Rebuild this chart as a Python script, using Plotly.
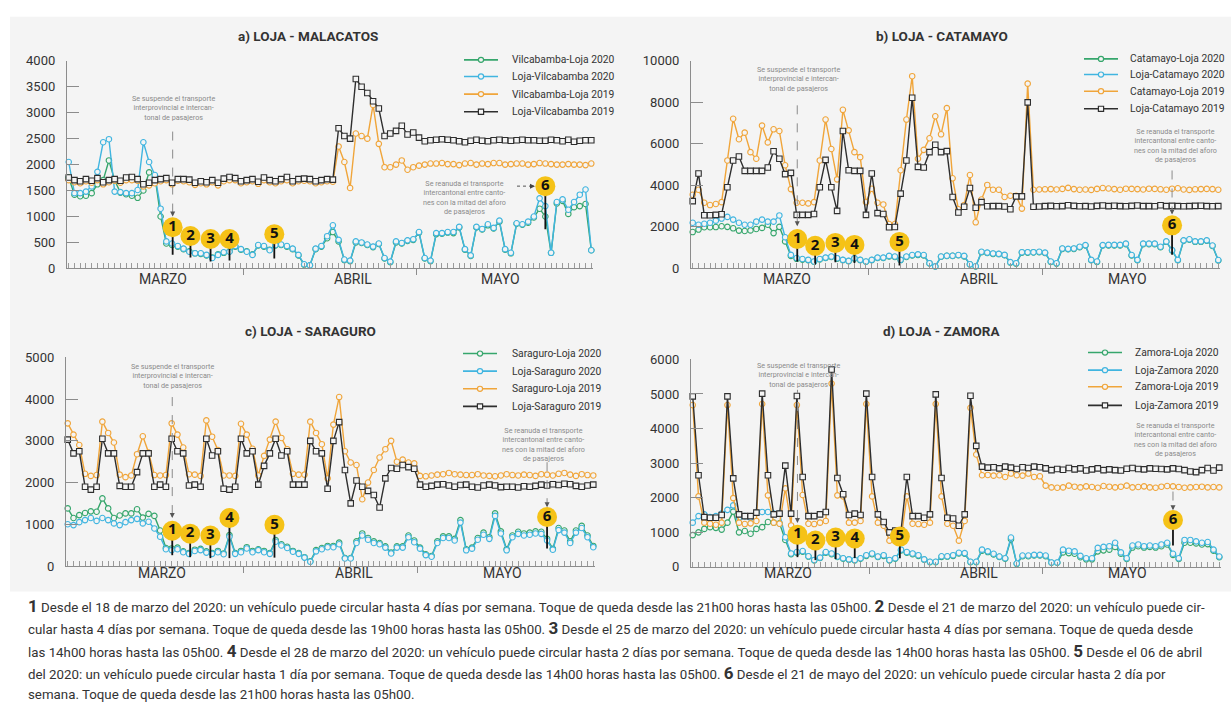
import plotly.graph_objects as go

W, H = 1231, 711
days = list(range(92))  # 1 de marzo .. 31 de mayo

# ---------------- a) LOJA - MALACATOS ----------------
a_names = ["Vilcabamba-Loja 2020", "Loja-Vilcabamba 2020", "Vilcabamba-Loja 2019", "Loja-Vilcabamba 2019"]
a_vl20 = [1750, 1420, 1390, 1400, 1450, 1620, 1700, 2080, 1700, 1460, 1430, 1400, 1360, 1500, 1850, 1780, 1000,
          480, 450, 420, 370, 330, 290, 280, 250, 210, 270, 300, 330, 420, 360, 330, 270, 440, 420, 360, 440,
          450, 420, 370, 250, 70, 60,
          370, 420, 580, 700, 520, 160, 140, 500, 490, 450, 410, 470, 190, 120, 500, 480, 530, 550, 690, 190,
          140, 660, 670, 690, 680, 790, 360, 240, 790, 750, 830, 770, 900, 360, 290, 860, 840, 880, 980, 1150,
          1000, 300, 1250, 1300, 1050, 1180, 1200, 1240, 350]
a_lv20 = [2050, 1450, 1450, 1480, 1580, 1860, 2430, 2490, 1480, 1470, 1450, 1450, 1510, 2430, 2050, 1800, 1150,
          520, 480, 430, 380, 320, 290, 290, 260, 200, 260, 310, 320, 430, 370, 320, 260, 450, 430, 350, 450,
          460, 430, 380, 260, 80, 60,
          380, 430, 620, 830, 550, 170, 150, 520, 500, 460, 420, 480, 200, 130, 520, 490, 540, 560, 700, 200,
          150, 680, 680, 700, 700, 800, 370, 250, 800, 760, 850, 780, 920, 370, 300, 870, 850, 900, 1000, 1350,
          1200, 300, 1280, 1330, 1130, 1280, 1420, 1520, 350]
a_vl19 = [1700, 1660, 1640, 1680, 1650, 1700, 1620, 1660, 1690, 1650, 1700, 1700, 1690, 1580, 1600, 1640, 1680,
          1700, 1620, 1690, 1680, 1660, 1610, 1640, 1620, 1660, 1600, 1680, 1700, 1700, 1640, 1660, 1680, 1630,
          1700, 1660, 1640, 1680, 1700, 1640, 1680, 1690, 1680, 1640, 1660, 1680, 1670,
          2350, 2050, 1550, 2600, 2550, 2500, 3150, 2400, 1950, 1950, 2000, 2080, 1900, 1950, 1980, 2000,
          2020, 2020, 2030, 2010, 2010, 1990, 2020, 2030, 2000, 2020, 2010, 2030, 2030, 2000, 2010, 2020, 2020,
          2000, 2010, 2030, 2020, 2010, 2000, 2000, 2010, 2000, 2000, 1990, 2020]
a_lv19 = [1750, 1700, 1680, 1720, 1690, 1740, 1660, 1700, 1720, 1690, 1750, 1760, 1720, 1620, 1650, 1700, 1720,
          1740, 1650, 1720, 1720, 1710, 1650, 1680, 1660, 1700, 1650, 1730, 1760, 1740, 1680, 1700, 1720, 1670,
          1750, 1700, 1680, 1720, 1760, 1680, 1720, 1730, 1720, 1680, 1700, 1720, 1710,
          2700, 2550, 2500, 3650, 3500, 3380, 3220, 3080, 2550, 2600, 2650, 2750, 2580, 2620, 2520, 2450,
          2470, 2480, 2490, 2480, 2470, 2450, 2430, 2460, 2480, 2460, 2450, 2470, 2480, 2470, 2460, 2470, 2480,
          2470, 2470, 2460, 2460, 2480, 2470, 2450, 2480, 2440, 2460, 2470, 2470]

# ---------------- b) LOJA - CATAMAYO ----------------
b_names = ["Catamayo-Loja 2020", "Loja-Catamayo 2020", "Catamayo-Loja 2019", "Loja-Catamayo 2019"]
b_cl20 = [1750, 1870, 1980, 1980, 1990, 2030, 2000, 1930, 1820, 1800, 1830, 1900, 1950, 2100, 1700, 2000, 1300,
          600, 460, 420, 390, 320, 430, 500, 550, 470, 400, 350, 470, 400, 320, 400, 500, 500, 580, 550, 400,
          550, 620, 650, 620, 240, 90,
          560, 600, 600, 630, 580, 190, 90, 780, 740, 700, 690, 630, 280, 230, 760, 760, 770, 780, 740, 310,
          230, 940, 920, 940, 1020, 1100, 390, 310, 1100, 1110, 1110, 1110, 1170, 620, 390, 1170, 1170, 1170,
          1020, 1280, 860, 390, 1330, 1380, 1280, 1280, 1330, 1080, 380]
b_lc20 = [2200, 2100, 2150, 2200, 2300, 2400, 2480, 2350, 2200, 2100, 2100, 2250, 2350, 2250, 2250, 2550, 1500,
          650, 500, 450, 410, 330, 450, 520, 570, 490, 410, 360, 490, 410, 330, 410, 520, 520, 600, 570, 410,
          570, 645, 675, 645, 250, 95,
          570, 610, 610, 645, 600, 200, 100, 800, 760, 720, 700, 650, 300, 250, 780, 780, 780, 800, 760, 330,
          250, 960, 940, 960, 1040, 1120, 410, 330, 1120, 1130, 1130, 1130, 1190, 645, 410, 1190, 1190, 1190,
          1040, 1300, 880, 410, 1350, 1400, 1300, 1300, 1350, 1100, 400]
b_cl19 = [3550, 3790, 3160, 3050, 3100, 3190, 5200, 7210, 6220, 6540, 5600, 5280, 6880, 6070, 6700, 6620, 4970,
          3820, 3160, 3160, 3130, 3190, 5200, 7170, 5750, 4290, 7640, 6650, 5600, 5360, 3190, 3840, 3160, 3080,
          2140, 2140, 4730, 7170, 9260, 5280, 5710, 6270, 7330, 6460, 7720, 4340, 2850, 3050,
          4500, 2220, 3320, 4020, 3790, 3790, 3440, 3500, 3500, 2880, 8900, 3790,
          3800, 3810, 3820, 3800, 3830, 3880, 3820, 3790, 3800, 3780, 3830, 3870, 3850, 3820, 3790, 3840, 3830,
          3820, 3800, 3840, 3830, 3810, 3790, 3840, 3860, 3800, 3780, 3810, 3820, 3830, 3820, 3790]
b_lc19 = [3240, 4570, 2560, 2560, 2580, 2610, 3910, 5200, 5390, 4700, 4700, 4700, 4700, 4860, 5640, 5280, 4540,
          4600, 2580, 2580, 2580, 2620, 3910, 5230, 3910, 2770, 6620, 4730, 4700, 4700, 2580, 4570, 2660, 2620,
          1980, 1990, 3600, 5200, 8220, 4890, 4860, 5600, 5960, 5600, 5650, 3440, 2690, 2970,
          3870, 2920, 3190, 2990, 3000, 3000, 2980, 2850, 3470, 3470, 8000, 2970,
          2980, 3000, 3010, 2990, 3000, 3040, 3010, 2990, 3000, 2980, 3010, 3030, 3000, 3020, 3000, 2990, 3010,
          3030, 3000, 3000, 2990, 3040, 3000, 3010, 3000, 2990, 3000, 3010, 3020, 3000, 2990, 3000]

# ---------------- c) LOJA - SARAGURO ----------------
c_names = ["Saraguro-Loja 2020", "Loja-Saraguro 2020", "Saraguro-Loja 2019", "Loja-Saraguro 2019"]
c_sl20 = [1380, 1150, 1220, 1270, 1310, 1300, 1620, 1380, 1150, 1210, 1260, 1260, 1360, 1160, 1250, 1200, 850,
          430, 420, 440, 350, 310, 390, 410, 350, 310, 360, 300, 740, 310, 360, 450, 360, 400, 360, 310, 620,
          520, 460, 360, 310, 210, 110, 380, 430, 480, 480, 560,
          190, 190, 590, 780, 670, 590, 550, 470, 320, 470, 470, 730, 610, 440, 280, 240, 590, 710, 710, 650,
          1100, 400, 440, 670, 800, 690, 1260, 830, 400, 730, 820, 780, 800, 830, 820, 650, 410, 910, 850, 590,
          850, 960, 730, 480]
c_ls20 = [1000, 980, 1050, 1100, 1150, 1080, 1150, 1100, 1020, 980, 1050, 1100, 1130, 1020, 1060, 900, 700,
          400, 380, 400, 330, 290, 360, 380, 320, 290, 330, 280, 700, 290, 330, 420, 330, 380, 330, 290, 580,
          490, 430, 340, 290, 200, 100, 350, 400, 450, 450, 520,
          180, 180, 550, 730, 630, 550, 520, 440, 300, 440, 440, 690, 570, 415, 260, 220, 550, 670, 670, 610,
          1040, 375, 415, 630, 750, 650, 1200, 780, 375, 690, 770, 730, 750, 780, 770, 610, 390, 860, 800, 550,
          800, 910, 690, 450]
c_sl19 = [3420, 3150, 2900, 2210, 2160, 2180, 3460, 3190, 2960, 2190, 2130, 2170, 2680, 3110, 2720, 2180, 2170,
          2180, 3420, 3150, 2840, 2200, 2190, 2160, 3490, 3100, 2780, 2170, 2170, 2160, 3410, 3150, 2810, 2170,
          2640, 3030, 3460, 3070, 2800, 2210, 2190, 2190, 3460, 3190, 2920, 2100, 3390, 4050,
          2750, 2480, 2420, 1600, 2000, 2300, 2600, 2800, 3000, 2500, 2550, 2480, 2460, 2160,
          2150, 2170, 2190, 2200, 2230, 2200, 2190, 2180, 2180, 2200, 2170, 2160, 2150, 2170, 2200, 2180, 2170,
          2190, 2180, 2160, 2200, 2190, 2170, 2210, 2230, 2190, 2160, 2200, 2180, 2170]
c_ls19 = [3030, 2700, 2750, 1900, 1830, 1900, 3050, 2700, 2700, 1920, 1900, 1900, 2250, 2700, 2700, 1900, 1950,
          1900, 3050, 2750, 2700, 1930, 1950, 1900, 3050, 2650, 2750, 1850, 1830, 1900, 3050, 2700, 2750, 1950,
          2400, 2700, 3050, 2650, 2750, 1950, 1950, 1950, 3000, 2750, 2700, 1850, 3000, 3450,
          2300, 1500, 2050, 1900, 1800, 1700, 1400, 2100, 2350, 2330, 2420, 2370, 2330, 1950, 1900,
          1920, 1950, 1960, 1930, 1900, 1940, 1950, 1900, 1880, 1930, 1950, 1930, 1890, 1900, 1900, 1880, 1910,
          1900, 1920, 1950, 1930, 1960, 1940, 1970, 1960, 1920, 1900, 1930, 1950]

# ---------------- d) LOJA - ZAMORA ----------------
d_names = ["Zamora-Loja 2020", "Loja-Zamora 2020", "Zamora-Loja 2019", "Loja-Zamora 2019"]
d_zl20 = [920, 1000, 1100, 1150, 1130, 1080, 1280, 1600, 1000, 1040, 960, 1100, 1150, 1300, 1280, 1260, 780,
          370, 410, 440, 300, 190, 260, 410, 370, 290, 240, 210, 190, 240, 320, 370, 290, 320, 190, 240, 480,
          410, 370, 320, 210, 140, 140, 290, 300, 320, 390, 380, 140, 140, 470, 430, 360, 290, 240, 800, 90,
          310, 310, 330, 330, 310, 120, 120, 420, 400, 380, 280, 220, 220, 450, 480, 500, 580, 380, 230, 560,
          600, 560, 580, 560, 600, 650, 350, 230, 700, 700, 680, 650, 660, 470, 280]
d_lz20 = [1280, 1470, 1520, 1440, 1470, 1540, 1650, 1780, 1420, 1470, 1420, 1570, 1590, 1590, 1540, 1540, 860,
          390, 430, 460, 310, 200, 270, 430, 390, 300, 250, 220, 200, 250, 340, 390, 300, 340, 200, 250, 500,
          430, 390, 340, 220, 150, 150, 310, 310, 340, 410, 400, 150, 150, 500, 450, 380, 300, 250, 850, 100,
          330, 330, 350, 350, 330, 130, 130, 500, 470, 450, 320, 250, 250, 550, 580, 600, 700, 420, 250, 620,
          650, 600, 620, 600, 650, 700, 380, 250, 780, 780, 740, 700, 720, 500, 300]
d_zl19 = [4680, 2040, 1280, 1250, 1220, 1280, 4680, 1990, 1280, 1240, 1260, 1330, 4710, 2070, 1280, 1250, 2270,
          1200, 4680, 2080, 1250, 1240, 1280, 1330, 5300, 2070, 2040, 1280, 1280, 1330, 4710, 2040, 1280, 1190,
          760, 760, 810, 2040, 1250, 1240, 1220, 1280, 4710, 2040, 1250, 1190, 760, 1330,
          4600, 3250, 2650, 2660, 2640, 2650, 2600, 2700, 2650, 2640, 2700, 2600, 2620,
          2350, 2300, 2290, 2300, 2350, 2320, 2300, 2330, 2310, 2290, 2340, 2320, 2300, 2320, 2350, 2300, 2310,
          2330, 2300, 2290, 2320, 2340, 2330, 2310, 2290, 2300, 2310, 2320, 2300, 2310, 2300]
d_lz19 = [4930, 2650, 1440, 1420, 1420, 1500, 4930, 2560, 1520, 1470, 1470, 1570, 5010, 2650, 1520, 1540, 2930,
          1540, 4940, 2600, 1470, 1470, 1520, 1590, 5710, 2570, 2100, 1500, 1540, 1500, 5010, 2600, 1520, 1300,
          1000, 1050, 1050, 2600, 1470, 1470, 1420, 1520, 4990, 2570, 1420, 1400, 1190, 1520,
          4950, 3500, 2900, 2870, 2880, 2850, 2900, 2870, 2830, 2880, 2860, 2900, 2880,
          2850, 2800, 2830, 2810, 2860, 2820, 2850, 2790, 2820, 2850, 2800, 2820, 2800, 2790, 2840, 2860, 2830,
          2820, 2850, 2840, 2830, 2820, 2850, 2830, 2800, 2760, 2740, 2800, 2860, 2790, 2870]

months = ["MARZO", "ABRIL", "MAYO"]
event_labels = ["1", "2", "3", "4", "5", "6"]

# ---------------- styling ----------------
GREEN, BLUE, ORANGE, BLACK = "#36a66c", "#40b5e0", "#f0a53a", "#2e2e2e"
COLORS = [GREEN, BLUE, ORANGE, BLACK]
SYMBOLS = ["circle", "circle", "circle", "square"]
PANEL = "#f4f4f4"
GOLD = "#f5c217"
FONT = "Roboto, sans-serif"
TXT = "#333333"


def fx(p):
    return p / W


def fy(p):
    return 1 - p / H


# plot-area boxes in pixels: (left, right, top, bottom)
panels = {
    "a": dict(box=(67, 593, 55, 267), ymax=4000, dtick=500, title="a) LOJA - MALACATOS", tcx=308, tcy=30,
              month_y=278, legend=(464, 498, 510, [54, 71, 89, 107]),
              series=[a_vl20, a_lv20, a_vl19, a_lv19], names=a_names,
              badge_y=[792, 623, 566, 566, 660, 1585], stem_y=[264, 208, 132, 151, 189, 755],
              susp_text=(173, 103), susp_line=(210, 120), rean_text=(464, 195)),
    "b": dict(box=(691, 1220, 55, 267), ymax=10000, dtick=2000, title="b) LOJA - CATAMAYO", tcx=942, tcy=30,
              month_y=278, legend=(1084, 1118, 1128, [53, 69, 86, 104]),
              series=[b_cl20, b_lc20, b_cl19, b_lc19], names=b_names,
              badge_y=[1415, 1085, 1226, 1132, 1274, 2075], stem_y=[330, 190, 300, 260, 140, 660],
              susp_text=(798, 74), susp_line=(220, 93), rean_text=(1175, 141), rean_line=(167, 208)),
    "c": dict(box=(66, 595, 358, 571), ymax=5000, dtick=1000, title="c) LOJA - SARAGURO", tcx=310, tcy=331,
              month_y=578, legend=(463, 497, 510, [354, 372, 390, 408]),
              series=[c_sl20, c_ls20, c_sl19, c_ls19], names=c_names,
              badge_y=[845, 775, 728, 1150, 986, 1174], stem_y=[258, 211, 188, 188, 200, 420],
              susp_text=(172, 377), susp_line=(518, 393), rean_text=(543, 447), rean_line=(465, 507)),
    "d": dict(box=(691, 1221, 360, 572), ymax=6000, dtick=1000, title="d) LOJA - ZAMORA", tcx=942, tcy=331,
              month_y=578, legend=(1088, 1122, 1133, [353, 371, 388, 407]),
              series=[d_zl20, d_lz20, d_zl19, d_lz19], names=d_names,
              badge_y=[934, 764, 849, 821, 877, 1358], stem_y=[283, 198, 230, 255, 250, 622],
              susp_text=(798, 376), susp_line=(523, 391), rean_text=(1175, 442), rean_line=(495, 510)),
}
event_x = [18.1, 21.2, 24.7, 28.0, 35.8, 83.0]
month_x = [16.4, 49.5, 75.2]

fig = go.Figure()
shapes, annotations = [], []

# light panel behind the four charts
shapes.append(dict(type="rect", xref="paper", yref="paper", x0=fx(10), x1=1, y0=fy(597), y1=fy(10),
                   fillcolor=PANEL, line=dict(width=0), layer="below"))

SUSP = "Se suspende el transporte<br>interprovincial e intercan-<br>tonal de pasajeros"
REAN = "Se reanuda el transporte<br>intercantonal entre canto-<br>nes con la mitad del aforo<br>de pasajeros"
small = dict(family=FONT, size=7.2, color="#8a8a8a")

layout_axes = {}
for i, key in enumerate(["a", "b", "c", "d"]):
    p = panels[key]
    n = "" if i == 0 else str(i + 1)
    xa, ya = "x" + n, "y" + n
    l, r, t, b = p["box"]
    layout_axes["xaxis" + n] = dict(
        domain=[fx(l), fx(r)], range=[-0.3, 91.3], anchor=ya, showgrid=False, zeroline=False,
        showline=True, linecolor="#8c8c8c", linewidth=1.2, showticklabels=False,
        tickmode="array", tickvals=[30.5, 60.5], ticks="outside", ticklen=6, tickcolor="#8c8c8c",
        minor=dict(tickmode="linear", tick0=0, dtick=1, ticks="inside", ticklen=5, tickcolor="#9a9a9a",
                   tickwidth=1),
    )
    layout_axes["yaxis" + n] = dict(
        domain=[fy(b), fy(t)], range=[0, p["ymax"]], anchor=xa, showgrid=False, zeroline=False,
        showline=True, linecolor="#8c8c8c", linewidth=1.2, tickmode="linear", tick0=0, dtick=p["dtick"],
        tickformat="d", ticks="inside", ticklen=12, tickcolor="#8c8c8c", tickwidth=1.2, ticklabelstandoff=8,
        tickfont=dict(family=FONT, size=13, color=TXT),
    )

    # data series
    for s, (vals, name) in enumerate(zip(p["series"], p["names"])):
        fig.add_trace(go.Scatter(
            x=days, y=vals, name=name, xaxis=xa, yaxis=ya, mode="lines+markers", cliponaxis=False,
            line=dict(color=COLORS[s], width=1.4),
            marker=dict(symbol=SYMBOLS[s], size=5.5, color=PANEL, line=dict(color=COLORS[s], width=1.1)),
            showlegend=False, hoverinfo="skip"))

    # event stems and badges
    sx, sy = [], []
    for ex, yb, ys in zip(event_x, p["badge_y"], p["stem_y"]):
        sx += [ex, ex, None]
        sy += [ys, yb, None]
    fig.add_trace(go.Scatter(x=sx, y=sy, xaxis=xa, yaxis=ya, mode="lines", line=dict(color="#111", width=1.8),
                             showlegend=False, hoverinfo="skip", cliponaxis=False))
    fig.add_trace(go.Scatter(
        x=event_x, y=p["badge_y"], xaxis=xa, yaxis=ya, mode="markers+text", cliponaxis=False,
        marker=dict(size=20, color=GOLD, line=dict(width=0)),
        text=["<b>%s</b>" % e for e in event_labels], textposition="middle center",
        textfont=dict(family="Open Sans, sans-serif", size=15, color="#111"),
        showlegend=False, hoverinfo="skip"))

    # title
    annotations.append(dict(xref="paper", yref="paper", x=fx(p["tcx"]), y=fy(p["tcy"]), text="<b>%s</b>" % p["title"],
                            showarrow=False, font=dict(family=FONT, size=13.5, color=TXT),
                            xanchor="center", yanchor="middle"))
    # month labels
    for mx, m in zip(month_x, months):
        annotations.append(dict(xref=xa, yref="paper", x=mx, y=fy(p["month_y"]), text=m, showarrow=False,
                                font=dict(family=FONT, size=14, color=TXT), xanchor="center",
                                yanchor="middle"))

    # legend drawn by hand
    lx0, lx1, tx, rows = p["legend"]
    for s, (name, ry) in enumerate(zip(p["names"], rows)):
        shapes.append(dict(type="line", xref="paper", yref="paper", x0=fx(lx0), x1=fx(lx1), y0=fy(ry), y1=fy(ry),
                           line=dict(color=COLORS[s], width=1.6)))
        cx = (lx0 + lx1) / 2
        shapes.append(dict(type="circle" if s < 3 else "rect", xref="paper", yref="paper",
                           x0=fx(cx - 2.6), x1=fx(cx + 2.6), y0=fy(ry + 2.6), y1=fy(ry - 2.6),
                           fillcolor=PANEL, line=dict(color=COLORS[s], width=1.2)))
        annotations.append(dict(xref="paper", yref="paper", x=fx(tx), y=fy(ry), text=name, showarrow=False,
                                xanchor="left", yanchor="middle", font=dict(family=FONT, size=10.3, color=TXT)))

    # suspension note with dashed pointer
    stx, sty = p["susp_text"]
    annotations.append(dict(xref="paper", yref="paper", x=fx(stx), y=fy(sty), text=SUSP, showarrow=False,
                            font=small, align="center", xanchor="center", yanchor="middle"))
    y_low, y_high = p["susp_line"]
    shapes.append(dict(type="line", xref=xa, yref="paper", x0=event_x[0], x1=event_x[0], y0=fy(y_low),
                       y1=fy(y_high), line=dict(color="#8a8a8a", width=1, dash="dash")))
    annotations.append(dict(xref=xa, yref="paper", x=event_x[0], y=fy(y_low + 4), ax=0, ay=-5, text="",
                            showarrow=True, arrowhead=2, arrowsize=1, arrowwidth=1, arrowcolor="#555"))

    # reopening note
    rtx, rty = p["rean_text"]
    annotations.append(dict(xref="paper", yref="paper", x=fx(rtx), y=fy(rty), text=REAN, showarrow=False,
                            font=small, align="center", xanchor="center", yanchor="middle"))
    if "rean_line" in p:
        r0, r1 = p["rean_line"]
        shapes.append(dict(type="line", xref=xa, yref="paper", x0=event_x[5], x1=event_x[5], y0=fy(r0),
                           y1=fy(r1), line=dict(color="#8a8a8a", width=1, dash="dash")))
        annotations.append(dict(xref=xa, yref="paper", x=event_x[5], y=fy(r1 + 4), ax=0, ay=-5, text="",
                                showarrow=True, arrowhead=2, arrowsize=1, arrowwidth=1, arrowcolor="#555"))
    else:
        shapes.append(dict(type="line", xref="paper", yref="paper", x0=fx(517), x1=fx(531), y0=fy(183),
                           y1=fy(183), line=dict(color="#555", width=1, dash="dot")))
        annotations.append(dict(xref="paper", yref="paper", x=fx(535), y=fy(183), ax=-5, ay=0, text="",
                                showarrow=True, arrowhead=2, arrowsize=1, arrowwidth=1, arrowcolor="#444"))

# footnotes
big = "<b><span style='font-size:17px'>%s</span></b>"
notes = [
    big % "1" + " Desde el 18 de marzo del 2020: un vehículo puede circular hasta 4 días por semana. Toque de queda desde las 21h00 horas hasta las 05h00. " + big % "2" + " Desde el 21 de marzo del 2020: un vehículo puede cir-",
    "cular hasta 4 días por semana. Toque de queda desde las 19h00 horas hasta las 05h00. " + big % "3" + " Desde el 25 de marzo del 2020: un vehículo puede circular hasta 4 días por semana. Toque de queda desde",
    "las 14h00 horas hasta las 05h00. " + big % "4" + " Desde el 28 de marzo del 2020: un vehículo puede circular hasta 2 días por semana. Toque de queda desde las 14h00 horas hasta las 05h00. " + big % "5" + " Desde el 06 de abril",
    "del 2020: un vehículo puede circular hasta 1 día por semana. Toque de queda desde las 14h00 horas hasta las 05h00. " + big % "6" + " Desde el 21 de mayo del 2020: un vehículo puede circular hasta 2 día por",
    "semana. Toque de queda desde las 21h00 horas hasta las 05h00.",
]
for k, line in enumerate(notes):
    annotations.append(dict(xref="paper", yref="paper", x=fx(26), y=fy(612 + 22.7 * k), text=line, showarrow=False,
                            xanchor="left", yanchor="middle", font=dict(family=FONT, size=13.3, color=TXT)))

fig.update_layout(
    width=W, height=H, margin=dict(l=0, r=0, t=0, b=0), paper_bgcolor="white", plot_bgcolor="rgba(0,0,0,0)",
    showlegend=False, shapes=shapes, annotations=annotations, **layout_axes)

fig.write_html("out.html")
